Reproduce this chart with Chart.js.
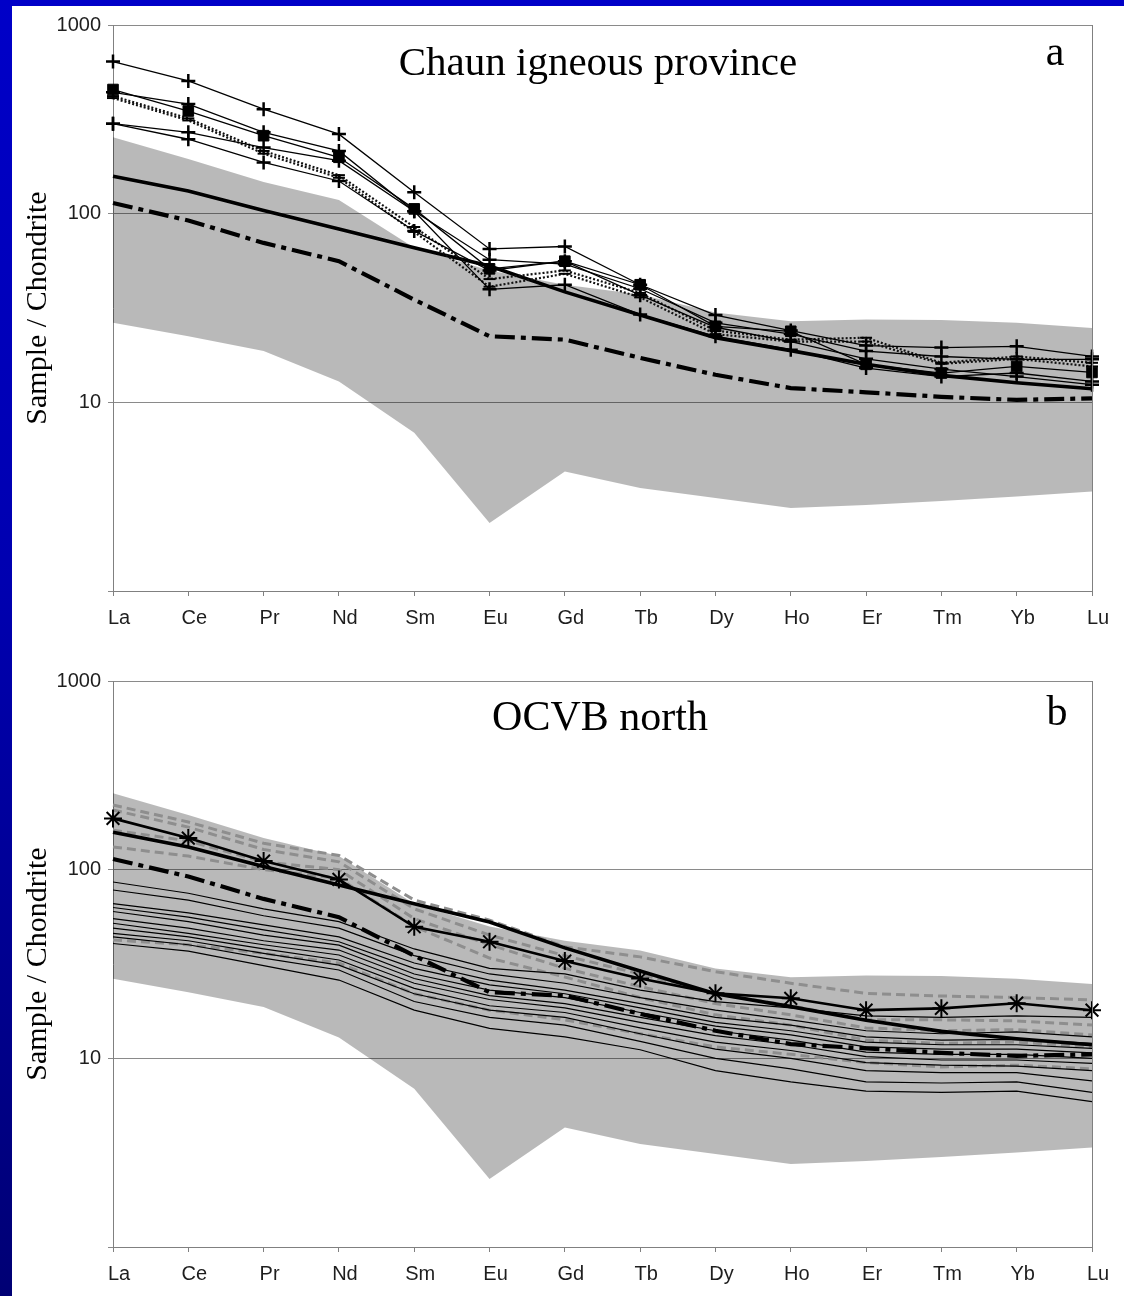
<!DOCTYPE html>
<html><head><meta charset="utf-8">
<script src="https://cdn.jsdelivr.net/npm/chart.js@4.4.1/dist/chart.umd.min.js"></script>
<style>
html,body{margin:0;padding:0}
body{width:1124px;height:1296px;overflow:hidden;position:relative;background:linear-gradient(to bottom,#0000c8 0%,#0000b0 45%,#000074 100%);}
#paper{position:absolute;left:12px;top:6px;width:1112px;height:1290px;background:#fff}
canvas{position:absolute;left:12px}
.t{position:absolute;font-family:'Liberation Serif','Times New Roman',serif;color:#000;line-height:1;white-space:nowrap;transform:translateX(-50%)}
</style></head>
<body>
<div id="paper"></div>
<canvas id="chartA" width="1112" height="645" style="top:6px"></canvas>
<canvas id="chartB" width="1112" height="645" style="top:651px"></canvas>
<div class="t" style="left:598px;top:41px;font-size:41px">Chaun igneous province</div>
<div class="t" style="left:1055px;top:30px;font-size:42px">a</div>
<div class="t" style="left:600px;top:695px;font-size:42px">OCVB north</div>
<div class="t" style="left:1057px;top:690px;font-size:42px">b</div>
<script>
// ---- categories and ticks ----
const elements = ['La','Ce','Pr','Nd','Sm','Eu','Gd','Tb','Dy','Ho','Er','Tm','Yb','Lu'];
const yTicks = [1, 10, 100, 1000];

// ---- shaded field (same in both panels) ----
const fieldUpper = [254, 195, 147, 118, 66, 50, 42, 37.3, 29.9, 26.9, 27.5, 27.3, 26.4, 24.8];
const fieldLower = [26.4, 22.4, 18.7, 12.9, 6.9, 2.29, 4.3, 3.51, 3.11, 2.75, 2.86, 3.0, 3.17, 3.37];

// ---- reference curves (same in both panels) ----
const refSolid   = [158, 132, 104, 83, 66, 52.8, 38.5, 29, 22, 18.8, 15.9, 13.9, 12.7, 11.8];
const refDashDot = [114, 92, 70, 56, 35, 22.4, 21.5, 17.2, 14, 11.9, 11.3, 10.7, 10.3, 10.5];

// ---- panel a: Chaun igneous province samples ----
const chaun1 = [640, 505, 358, 264, 130, 65, 67, 42, 29, 24, 20, 19.5, 19.8, 17.5];
const chaun2 = [455, 350, 259, 199, 106, 51, 56, 42, 25.3, 23.8, 15.9, 14.3, 15.5, 14.4];
const chaun3 = [440, 381, 270, 215, 103, 57, 54, 40, 26.4, 23, 18.7, 17.5, 16.9, 16.9];
const chaun4 = [420, 320, 215, 160, 85, 45, 50, 38, 24, 21.5, 22, 16.2, 17.5, 16.2];
const chaun5 = [410, 312, 208, 155, 80, 41, 48, 36, 23, 21, 21, 16, 17, 15.5];
const chaun6 = [300, 270, 224, 191, 103, 39.7, 42, 29.2, 22.4, 19, 15.2, 13.7, 14.3, 12.9];
const chaun7 = [300, 248, 187, 149, 81, 50, 56, 37, 25, 21, 17, 15, 13.7, 12.4];

// ---- panel b: OCVB north samples ----
const ocvbStar = [187, 147, 111, 88.8, 49.8, 41.5, 32.8, 26.5, 22.1, 20.8, 18.0, 18.4, 19.6, 18.0];
const ocvbDash1 = [220, 179, 138, 119, 69, 54, 39, 34.5, 28.8, 25, 22.1, 21.4, 21, 20.4];
const ocvbDash2 = [207, 168, 128, 110, 62, 45, 35, 28, 22, 19, 16, 16, 15.8, 15];
const ocvbDash3 = [162, 142, 110, 100, 55, 40, 30, 24, 19.5, 17, 14.5, 14, 14.2, 13.3];
const ocvbDash4 = [132, 118, 100, 90, 50, 34, 27, 21, 17, 15, 12.5, 12, 12.2, 11.5];
const ocvbDash5 = [42.4, 40, 36, 32, 22, 18, 16, 13.5, 11.5, 10.5, 9.5, 9, 9.2, 8.8];
const ocvbThin1  = [86, 75, 62, 53, 38, 30, 28, 23, 20, 18.5, 16.8, 16.5, 16.8, 16.5];
const ocvbThin2  = [78, 69, 57, 49, 35, 28, 25, 21, 18, 16, 14, 13.5, 13.8, 13];
const ocvbThin3  = [66, 59, 51, 44, 32, 26, 23, 19.5, 16.5, 15, 13, 12.5, 12.6, 12];
const ocvbThin4  = [63, 56, 48, 41.5, 30, 24.5, 22, 18.5, 15.5, 14, 12.2, 11.8, 11.8, 11.3];
const ocvbThin5  = [60, 53, 45, 39.8, 28, 23, 21, 17.5, 14.8, 13.3, 11.5, 11.2, 11.2, 10.7];
const ocvbThin6  = [55, 49, 42, 37.5, 26.5, 21.5, 19.5, 16.5, 14, 12.5, 10.8, 10.5, 10.5, 10];
const ocvbThin7  = [52, 46, 40, 35.3, 25, 20.5, 18.5, 15.5, 13.2, 11.8, 10.2, 9.8, 9.8, 9.4];
const ocvbThin8  = [49, 44, 38, 33.2, 23.5, 19, 17.5, 14.5, 12.2, 11, 9.5, 9.2, 9.1, 8.6];
const ocvbThin9  = [46, 42, 36, 31.2, 22, 18, 16.5, 13.5, 11.2, 10, 8.6, 8.4, 8.4, 7.6];
const ocvbThin10 = [44, 40, 34, 29.4, 20, 16.5, 15, 12.3, 10, 8.8, 7.5, 7.4, 7.5, 6.6];
const ocvbThin11 = [40.6, 37, 31, 26, 18, 14.4, 13, 11.1, 8.6, 7.5, 6.7, 6.6, 6.7, 5.9];

// ---- styling helpers ----
const SANS = "'Liberation Sans', Arial, sans-serif";
const SERIF = "'Liberation Serif', 'Times New Roman', serif";
const AXIS = '#808080';

function fieldSets() {
  return [
    {data: fieldUpper, borderColor: 'rgba(0,0,0,0)', borderWidth: 0, backgroundColor: 'rgba(0,0,0,0.275)', fill: '+1', order: 10, pointRadius: 0},
    {data: fieldLower, borderColor: 'rgba(0,0,0,0)', borderWidth: 0, fill: false, order: 10, pointRadius: 0}
  ];
}
function refSets() {
  return [
    {data: refSolid, borderColor: '#000', borderWidth: 3.6, fill: false, order: 4, pointRadius: 0},
    {data: refDashDot, borderColor: '#000', borderWidth: 4.2, borderDash: [20, 6, 5, 6], fill: false, order: 4, pointRadius: 0}
  ];
}
function crossLine(d) {
  return {data: d, borderColor: '#000', borderWidth: 1.3, fill: false, order: 0, pointStyle: 'cross', pointRadius: 7, pointBorderWidth: 2.5, pointBorderColor: '#000', clip: false};
}
function dottedLine(d) {
  return {data: d, borderColor: '#111', borderWidth: 2.2, borderDash: [2, 2], fill: false, order: 1, pointStyle: 'line', pointRadius: 6, pointBorderWidth: 2, pointBorderColor: '#000', clip: false};
}
function thinLine(d) {
  return {data: d, borderColor: '#000', borderWidth: 1.2, fill: false, order: 3, pointRadius: 0};
}
function grayDash(d) {
  return {data: d, borderColor: '#8e8e8e', borderWidth: 3, borderDash: [9, 5], fill: false, order: 5, pointRadius: 0};
}

const setsA = [
  ...fieldSets(),
  ...refSets(),
  crossLine(chaun1),
  {data: chaun2, borderColor: '#000', borderWidth: 1.3, fill: false, order: 0, pointStyle: 'rect', pointRadius: 7.5, pointBorderWidth: 1, pointBackgroundColor: '#000', pointBorderColor: '#000', clip: false},
  crossLine(chaun3),
  dottedLine(chaun4),
  dottedLine(chaun5),
  crossLine(chaun6),
  crossLine(chaun7)
];

const setsB = [
  ...fieldSets(),
  grayDash(ocvbDash1), grayDash(ocvbDash2), grayDash(ocvbDash3), grayDash(ocvbDash4), grayDash(ocvbDash5),
  thinLine(ocvbThin1), thinLine(ocvbThin2), thinLine(ocvbThin3), thinLine(ocvbThin4), thinLine(ocvbThin5),
  thinLine(ocvbThin6), thinLine(ocvbThin7), thinLine(ocvbThin8), thinLine(ocvbThin9), thinLine(ocvbThin10), thinLine(ocvbThin11),
  ...refSets(),
  {data: ocvbStar, borderColor: '#000', borderWidth: 2.6, fill: false, order: 0, pointStyle: 'star', pointRadius: 9, pointBorderWidth: 2, pointBorderColor: '#000', clip: false}
];

const frame = {
  id: 'frame',
  afterDatasetsDraw(chart) {
    const {ctx, chartArea: a} = chart;
    ctx.save();
    ctx.strokeStyle = AXIS; ctx.lineWidth = 1;
    ctx.beginPath();
    ctx.moveTo(Math.round(a.right) + 0.5, a.top);
    ctx.lineTo(Math.round(a.right) + 0.5, a.bottom);
    ctx.stroke();
    ctx.restore();
  }
};

function makeChart(id, datasets, topPad, xHeight) {
  return new Chart(document.getElementById(id), {
    type: 'line',
    data: {labels: elements, datasets},
    options: {
      responsive: false, animation: false, devicePixelRatio: 1,
      layout: {padding: {top: topPad, right: 32, bottom: 0, left: 0}},
      plugins: {legend: {display: false}, tooltip: {enabled: false}},
      elements: {line: {tension: 0}, point: {radius: 0, hitRadius: 0}},
      scales: {
        x: {
          type: 'category', offset: false,
          grid: {display: true, drawOnChartArea: false, drawTicks: true, tickLength: 5, color: AXIS},
          border: {display: true, color: AXIS, width: 1},
          ticks: {autoSkip: false, maxRotation: 0, padding: 10, labelOffset: 6, color: '#1e1e1e', font: {family: SANS, size: 20}},
          afterFit(s) { s.height = xHeight; }
        },
        y: {
          type: 'logarithmic', min: 1, max: 1000,
          afterBuildTicks(s) { s.ticks = yTicks.map(v => ({value: v})); },
          ticks: {padding: 7, color: '#1e1e1e', font: {family: SANS, size: 20}, callback: v => (v === 1 ? '' : String(v))},
          grid: {color: '#8a8a8a', lineWidth: 1, tickLength: 5, drawTicks: true},
          border: {display: true, color: AXIS, width: 1},
          title: {display: true, text: 'Sample / Chondrite', color: '#000', font: {family: SERIF, size: 30}, padding: {top: 8, bottom: 0}},
          afterFit(s) { s.width = 101; }
        }
      }
    },
    plugins: [frame]
  });
}

makeChart('chartA', setsA, 19, 60);
makeChart('chartB', setsB, 30, 49);
</script>
</body></html>
